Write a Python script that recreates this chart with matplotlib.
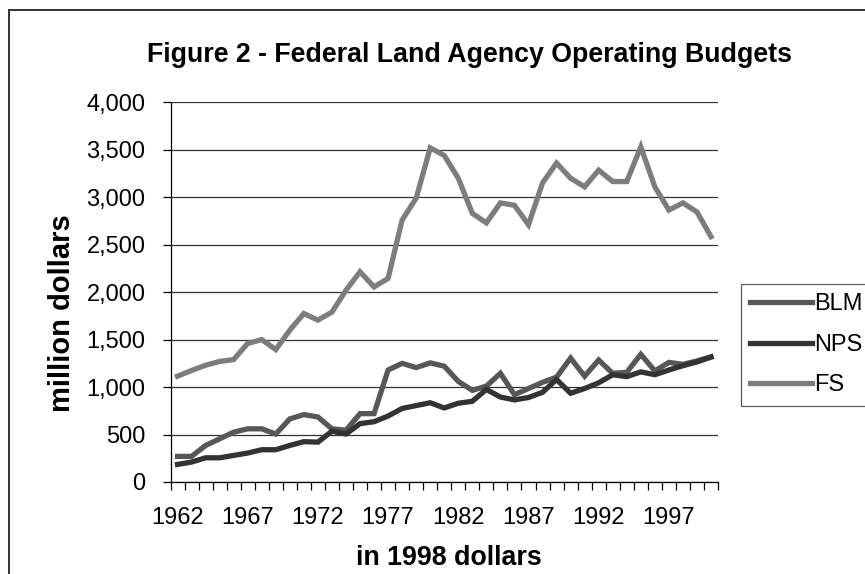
import numpy as np
import matplotlib
matplotlib.use('Agg')
import matplotlib.pyplot as plt
from matplotlib.patches import Rectangle

plt.rcParams['font.family'] = ['Liberation Sans', 'DejaVu Sans']

# data (million 1998 dollars)
years = list(range(1962, 2001))
blm = [270, 270, 385, 455, 525, 560, 560, 505, 665, 710,
       685, 560, 545, 720, 720, 1180, 1250, 1205, 1255, 1220,
       1060, 965, 1010, 1145, 920, 985, 1050, 1105, 1305, 1115,
       1285, 1145, 1155, 1345, 1170, 1260, 1240, 1275, 1320]
nps = [185, 210, 255, 255, 280, 305, 340, 340, 385, 425,
       420, 535, 505, 615, 635, 695, 775, 805, 835, 780,
       830, 850, 975, 895, 865, 890, 945, 1080, 935, 985,
       1045, 1130, 1110, 1160, 1130, 1180, 1225, 1265, 1315]
fs = [1115, 1175, 1230, 1270, 1290, 1460, 1500, 1395, 1600, 1775,
      1705, 1790, 2020, 2215, 2055, 2145, 2760, 2990, 3520, 3440,
      3200, 2830, 2730, 2940, 2915, 2710, 3150, 3360, 3200, 3110,
      3285, 3165, 3165, 3530, 3110, 2865, 2940, 2845, 2585]
series_names = ['BLM', 'NPS', 'FS']
series_colors = ['#575757', '#333333', '#7d7d7d']

W, H = 865, 574
fig = plt.figure(figsize=(W / 100, H / 100), dpi=100)

# outer chart border (runs off the right / bottom edge)
fig.patches.append(Rectangle((9 / W, -0.05), 1.0, 1 - 10 / H + 0.05,
                             transform=fig.transFigure, fill=False,
                             edgecolor='#222222', linewidth=1.3))

left, right, bottom, top = 170.5, 718, 482, 102.3
ax = fig.add_axes([left / W, (H - bottom) / H, (right - left) / W, (bottom - top) / H])

x = np.arange(len(years))
for vals, name, col in zip([blm, nps, fs], series_names, series_colors):
    ax.plot(x, vals, color=col, linewidth=3.8, label=name, solid_joinstyle='miter')

ax.set_xlim(-0.5, len(years) - 0.5)
ax.set_ylim(0, 4000)
ax.set_yticks(np.arange(0, 4001, 500))
ax.set_yticklabels([f'{v:,}' for v in range(0, 4001, 500)])
ax.yaxis.grid(True, color='#333333', linewidth=0.9)
ax.set_axisbelow(True)

ax.set_xticks(x[::5])
ax.set_xticklabels([str(y) for y in years[::5]])
ax.set_xticks(np.arange(-0.5, len(years)), minor=True)
ax.tick_params(axis='x', which='major', length=0, pad=18, labelsize=17)
ax.tick_params(axis='x', which='minor', length=6, width=0.9, direction='out')
ax.tick_params(axis='y', length=6, width=0.9, pad=12, labelsize=17)

for s in ['top', 'right']:
    ax.spines[s].set_visible(False)
for s in ['left', 'bottom']:
    ax.spines[s].set_color('black')
    ax.spines[s].set_linewidth(0.9)

fig.text(470 / W, 1 - 55 / H, 'Figure 2 - Federal Land Agency Operating Budgets',
         ha='center', va='center', fontsize=19.3, fontweight='bold')
fig.text(449 / W, 1 - 558 / H, 'in 1998 dollars',
         ha='center', va='center', fontsize=19.3, fontweight='bold')
fig.text(62 / W, 1 - 313 / H, 'million dollars', rotation=90,
         ha='center', va='center', fontsize=21, fontweight='bold')

leg = ax.legend(loc='upper left', bbox_to_anchor=(741 / W, 1 - 284 / H),
                bbox_transform=fig.transFigure, frameon=True, fancybox=False,
                edgecolor='#333333', fontsize=17, handlelength=2.6,
                handletextpad=0.1, labelspacing=0.78, borderpad=0.4,
                borderaxespad=0)
leg.get_frame().set_linewidth(0.9)

fig.savefig('out.png', dpi=100)
